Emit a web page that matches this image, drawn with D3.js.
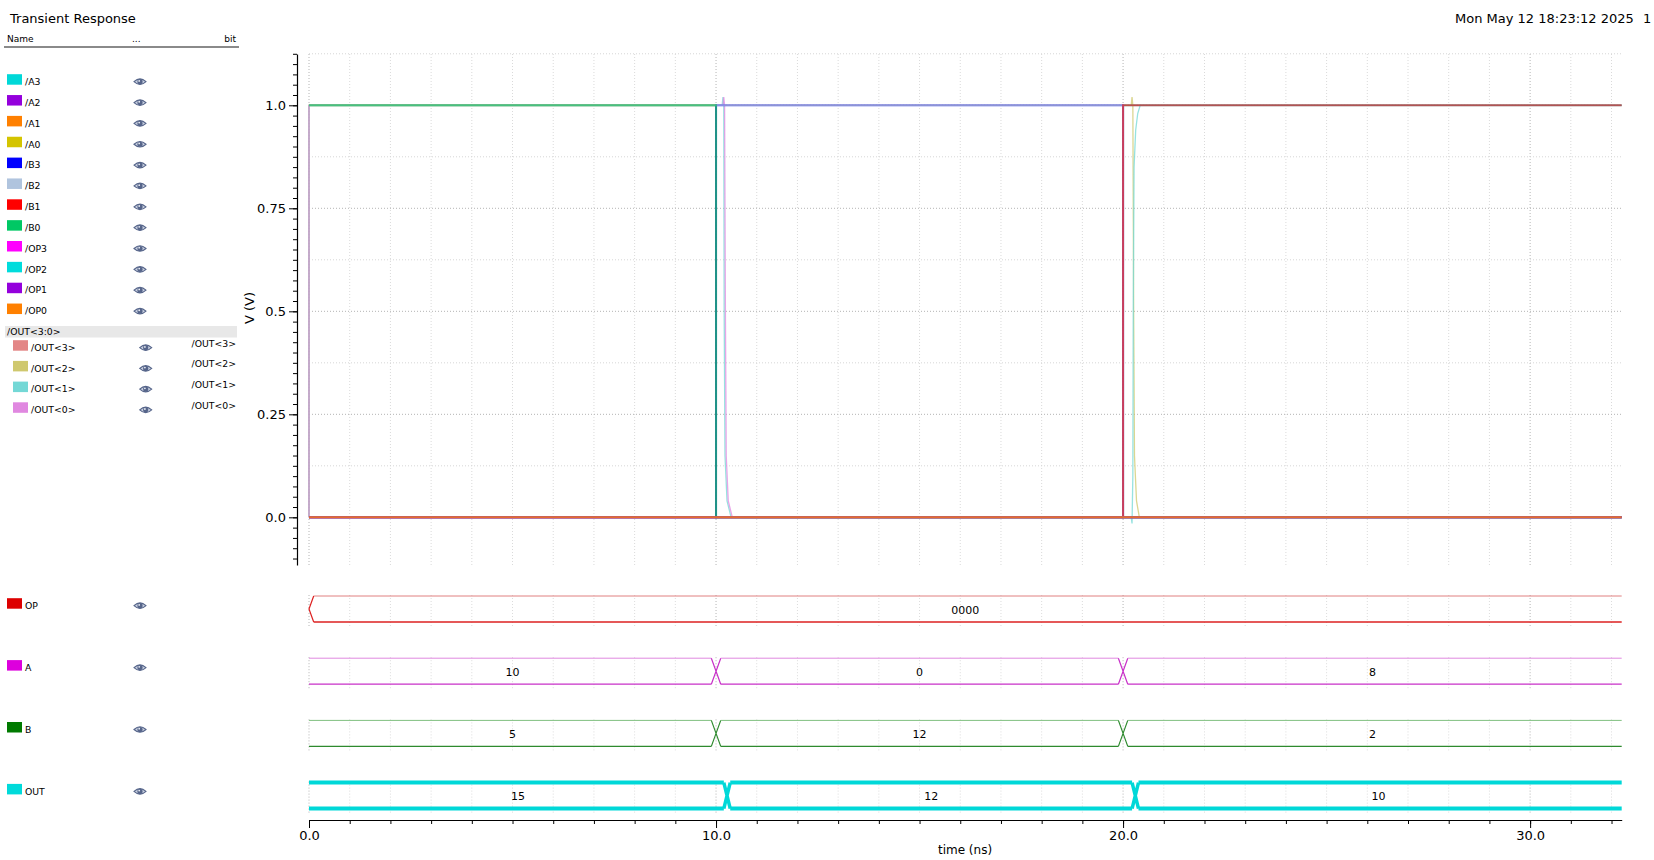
<!DOCTYPE html>
<html><head><meta charset="utf-8">
<script src="https://cdn.jsdelivr.net/npm/d3@7"></script>
<style>
html,body{margin:0;padding:0;background:#fff;}
svg{display:block;font-family:"DejaVu Sans",sans-serif;}
</style></head>
<body>
<svg id="c" width="1654" height="860"></svg>
<script>
// ---------------- data ----------------
const title = "Transient Response";
const dateText = "Mon May 12 18:23:12 2025";
const pageNo = "1";
const tStart = 0, tEnd = 32.25;
const vMin = -0.1157, vMax = 1.1245;

const inputNames  = ["/A3","/A2","/A1","/A0","/B3","/B2","/B1","/B0","/OP3","/OP2","/OP1","/OP0"];
const inputColors = ["#00d8d8","#9400dc","#ff8000","#d4c400","#0000ff","#b0c4de","#ff0000","#00c864","#ff00ff","#00dcdc","#9400dc","#ff8000"];
const inputEdges  = [0, 10, 20];
const inputLevels = [
  [1,0,1],[0,0,0],[1,0,0],[0,0,0],
  [0,1,0],[1,1,0],[0,0,1],[1,0,0],
  [0,0,0],[0,0,0],[0,0,0],[0,0,0]
];

const outGroupName = "/OUT<3:0>";
const outNames  = ["/OUT<3>","/OUT<2>","/OUT<1>","/OUT<0>"];
const outColors = ["#e38686","#cfc86e","#74d8d6","#e088e0"];
// analog samples [t(ns), V]
const out3Pts = [[0,0],[0,1],[32.25,1]];
const out2Pts = [[0,0],[0,1],[20.2,1],[20.22,1.02],[20.24,1.0],[20.26,0.5],[20.28,0.15],[20.33,0.04],[20.4,0],[32.25,0]];
const out1Pts = [[0,0],[0,1],[10.15,1],[10.17,1.02],[10.19,1.0],[10.2,0.5],[10.22,0.15],[10.27,0.04],[10.37,0],
                 [20.2,0],[20.22,-0.015],[20.24,0.1],[20.25,0.5],[20.27,0.85],[20.31,0.94],[20.36,0.98],[20.42,1],[32.25,1]];
const out0Pts = [[0,0],[0,1],[10.17,1],[10.19,1.02],[10.21,1.0],[10.23,0.5],[10.25,0.15],[10.3,0.04],[10.4,0],[32.25,0]];
const outPts = [out3Pts, out2Pts, out1Pts, out0Pts];

const busNames   = ["OP","A","B","OUT"];
const busColors  = ["#dd0000","#dd00dd","#007a00","#00dada"];
const busTop     = ["#e08080","#e088e0","#80c080","#00d8d8"];
const busBot     = ["#dd2020","#c830c8","#2e8a2e","#00d8d8"];
const busStartEdge = [true, false, false, false];
const opStarts  = [0];          const opVals  = ["0000"];
const aStarts   = [0, 10, 20];  const aVals   = ["10","0","8"];
const bStarts   = [0, 10, 20];  const bVals   = ["5","12","2"];
const outStarts = [0, 10.27, 20.3]; const outVals = ["15","12","10"];
const busStarts = [opStarts, aStarts, bStarts, outStarts];
const busVals   = [opVals, aVals, bVals, outVals];

const yTickVals   = [0, 0.25, 0.5, 0.75, 1.0];
const yTickLabels = ["0.0","0.25","0.5","0.75","1.0"];
const xTickVals   = [0, 10, 20, 30];
const xTickLabels = ["0.0","10.0","20.0","30.0"];
const xLabel = "time (ns)";
const yLabel = "V (V)";

// ---------------- layout ----------------
const svg = d3.select("#c");
const x = d3.scaleLinear().domain([tStart, tEnd]).range([309, 1621.7]);
const y = d3.scaleLinear().domain([vMin, vMax]).range([565, 54]);
const axisX = 297;
const busAxisY = 820;

// header
svg.append("text").attr("x",10).attr("y",18).attr("dy","0.35em").attr("font-size",13).text(title);
svg.append("text").attr("x",1455).attr("y",18).attr("dy","0.35em").attr("font-size",13).text(dateText);
svg.append("text").attr("x",1643).attr("y",18).attr("dy","0.35em").attr("font-size",13).text(pageNo);

// legend header
svg.append("text").attr("x",7).attr("y",39).attr("dy","0.35em").attr("font-size",9).text("Name");
svg.append("text").attr("x",132).attr("y",39).attr("dy","0.35em").attr("font-size",9).text("...");
svg.append("text").attr("x",236).attr("y",39).attr("dy","0.35em").attr("font-size",9).attr("text-anchor","end").text("bit");
svg.append("line").attr("x1",4).attr("x2",239).attr("y1",47).attr("y2",47).attr("stroke","#8a8a8a").attr("stroke-width",2);

function eye(g, cx, cy){
  const e = g.append("g").attr("transform",`translate(${cx},${cy})`);
  e.append("path").attr("d","M-6,0 Q0,-5.5 6,0 Q0,5.5 -6,0 Z").attr("fill","#c9d0e0").attr("stroke","#56658a").attr("stroke-width",1.1);
  e.append("circle").attr("r",2.6).attr("fill","#56658a");
  e.append("circle").attr("r",0.9).attr("cx",-0.8).attr("cy",-0.8).attr("fill","#e8ecf4");
}

const leg = svg.append("g");
inputNames.forEach((n,i)=>{
  const cy = 81.7 + i*20.85;
  leg.append("rect").attr("x",7).attr("y",cy-7.5).attr("width",15).attr("height",10.5).attr("fill",inputColors[i]);
  leg.append("text").attr("x",25).attr("y",cy).attr("dy","0.35em").attr("font-size",9.3).text(n);
  eye(leg, 140, cy);
});
leg.append("rect").attr("x",5).attr("y",326).attr("width",232).attr("height",11.5).attr("fill","#e8e8e8");
leg.append("text").attr("x",7).attr("y",331.7).attr("dy","0.35em").attr("font-size",9.3).text(outGroupName);
outNames.forEach((n,i)=>{
  const cy = 347.7 + i*20.7;
  leg.append("rect").attr("x",13).attr("y",cy-7.5).attr("width",15).attr("height",10.5).attr("fill",outColors[i]);
  leg.append("text").attr("x",31).attr("y",cy).attr("dy","0.35em").attr("font-size",9.3).text(n);
  eye(leg, 145.7, cy);
  leg.append("text").attr("x",236).attr("y",cy-4.4).attr("dy","0.35em").attr("font-size",9.3).attr("text-anchor","end").text(n);
});
busNames.forEach((n,i)=>{
  const cy = 605.7 + i*61.9;
  leg.append("rect").attr("x",7).attr("y",cy-7.5).attr("width",15).attr("height",10.5).attr("fill",busColors[i]);
  leg.append("text").attr("x",25).attr("y",cy).attr("dy","0.35em").attr("font-size",9.3).text(n);
  eye(leg, 140, cy);
});

// ---------------- top panel grid ----------------
const grid = svg.append("g");
d3.range(0, 33, 1).forEach(t=>{
  grid.append("line").attr("x1",x(t)).attr("x2",x(t)).attr("y1",54).attr("y2",565)
    .attr("stroke", t%10===0 ? "#b4b4b4" : "#dadada").attr("stroke-width",1).attr("stroke-dasharray","1,2");
});
d3.range(0, 1.13, 0.125).forEach(v=>{
  const major = Math.abs(v/0.25 - Math.round(v/0.25))<1e-6;
  grid.append("line").attr("x1",x(0)).attr("x2",x(tEnd)).attr("y1",y(v)).attr("y2",y(v))
    .attr("stroke", major ? "#b4b4b4" : "#d6d6d6").attr("stroke-width",1).attr("stroke-dasharray","1,2");
});

// y axis
const yAx = svg.append("g").attr("transform",`translate(${axisX},0)`);
yAx.call(d3.axisLeft(y).tickValues(yTickVals).tickFormat((d,i)=>yTickLabels[i]).tickSize(8).tickSizeOuter(0).tickPadding(3));
yAx.selectAll("text").attr("font-size",13).attr("font-family","DejaVu Sans");
yAx.select(".domain").attr("stroke","#000").attr("stroke-width",1.2);
const yMinor = svg.append("g").attr("transform",`translate(${axisX},0)`);
yMinor.call(d3.axisLeft(y).tickValues(d3.range(-0.1, 1.126, 0.025)).tickFormat("").tickSize(4).tickSizeOuter(0));
yMinor.select(".domain").remove();
svg.append("text").attr("transform",`translate(249,308) rotate(-90)`).attr("text-anchor","middle").attr("dy","0.35em").attr("font-size",13).text(yLabel);

// ---------------- top panel traces ----------------
const traces = svg.append("g");
const aLine = d3.line().x(d=>x(d[0])).y(d=>y(d[1]));
outPts.forEach((pts,i)=>{
  traces.append("path").attr("d",aLine(pts)).attr("fill","none").attr("stroke",outColors[i])
    .attr("stroke-width",1.3).attr("stroke-opacity",0.75);
});
const stepLine = d3.line().x(d=>x(d[0])).y(d=>y(d[1])).curve(d3.curveStepAfter);
inputLevels.forEach((lv,i)=>{
  const pts = inputEdges.map((t,k)=>[t, lv[k]]);
  pts.push([tEnd, lv[lv.length-1]]);
  const isOp = inputNames[i].startsWith("/OP");
  traces.append("path").attr("d",stepLine(pts)).attr("fill","none").attr("stroke",inputColors[i])
    .attr("stroke-width",2).attr("stroke-opacity", isOp ? 0.8 : 0.6);
});

// ---------------- bus panel ----------------
const bus = svg.append("g");
busNames.forEach((n,r)=>{
  const yT = 596 + r*62.2, yB = yT + 26, yM = (yT+yB)/2;
  const isOut = n==="OUT";
  const d = isOut ? 3.2 : 4.7;
  const sw = isOut ? 4 : 1;
  d3.range(0, 33, 1).forEach(t=>{
    bus.append("line").attr("x1",x(t)).attr("x2",x(t)).attr("y1",yT-1).attr("y2",yB+6)
      .attr("stroke", t%10===0 ? "#b4b4b4" : "#dcdcdc").attr("stroke-dasharray","1,2");
  });
  const starts = busStarts[r], vals = busVals[r];
  starts.forEach((s,k)=>{
    const e = k+1<starts.length ? starts[k+1] : tEnd;
    const leftEdge = k>0 || busStartEdge[r];
    const rightEdge = k+1<starts.length;
    const x0 = x(s) + (leftEdge ? d : 0);
    const x1 = x(e) - (rightEdge ? d : 0);
    bus.append("line").attr("x1",x0).attr("x2",x1).attr("y1",yT).attr("y2",yT).attr("stroke",busTop[r]).attr("stroke-width",sw);
    bus.append("line").attr("x1",x0).attr("x2",x1).attr("y1",yB).attr("y2",yB).attr("stroke",busBot[r]).attr("stroke-width",isOut?4:1.3);
    if(k===0 && busStartEdge[r]){
      bus.append("path").attr("d",`M${x(s)+d},${yT}L${x(s)},${yM}L${x(s)+d},${yB}`).attr("fill","none").attr("stroke",busBot[r]).attr("stroke-width",isOut?3:1.2);
    }
    if(rightEdge){
      const xe = x(e);
      bus.append("path").attr("d",`M${xe-d},${yT}L${xe+d},${yB}M${xe-d},${yB}L${xe+d},${yT}`).attr("fill","none").attr("stroke",busBot[r]).attr("stroke-width",isOut?3.5:1.2);
    }
    bus.append("text").attr("x",(x(s)+x(e))/2).attr("y",yM+1).attr("dy","0.35em").attr("text-anchor","middle").attr("font-size",11).text(vals[k]);
  });
});

// bottom axis
const xAx = svg.append("g").attr("transform",`translate(0,${busAxisY})`);
xAx.call(d3.axisBottom(x).tickValues(xTickVals).tickFormat((d,i)=>xTickLabels[i]).tickSize(8).tickSizeOuter(0).tickPadding(3));
xAx.selectAll("text").attr("font-size",13).attr("font-family","DejaVu Sans");
xAx.select(".domain").attr("stroke-width",1.2);
const xMinor = svg.append("g").attr("transform",`translate(0,${busAxisY})`);
xMinor.call(d3.axisBottom(x).tickValues(d3.range(0, 33, 1)).tickFormat("").tickSize(4).tickSizeOuter(0));
xMinor.select(".domain").remove();
svg.append("text").attr("x",965).attr("y",850).attr("dy","0.35em").attr("text-anchor","middle").attr("font-size",12).text(xLabel);
</script>
</body></html>
